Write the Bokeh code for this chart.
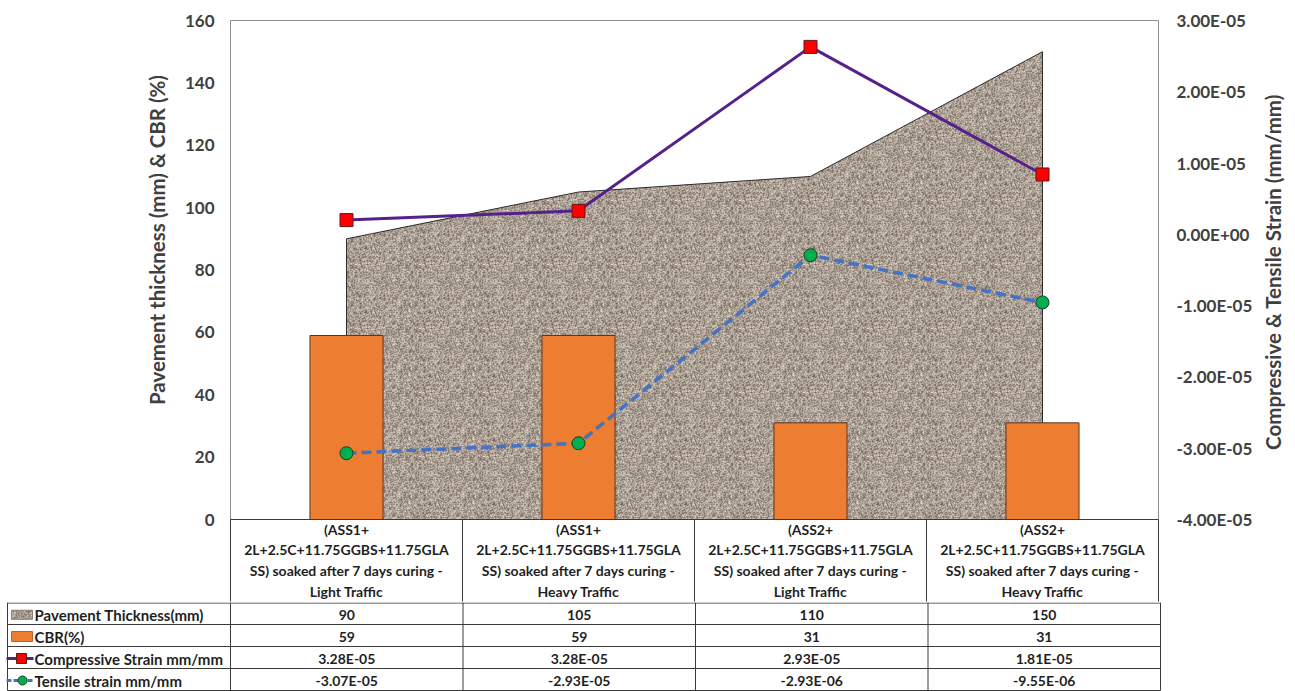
import base64
import math
import struct
import zlib

import numpy as np
from bokeh.core.properties import value
from bokeh.embed import file_html
from bokeh.layouts import row
from bokeh.models import (CustomJSTickFormatter, FixedTicker, ImageURLTexture, LinearAxis,
                          Range1d)
from bokeh.plotting import figure
from bokeh.resources import INLINE

# ---------------- data ----------------
categories = [
    "(ASS1+\n2L+2.5C+11.75GGBS+11.75GLA\nSS) soaked after 7 days curing -\nLight Traffic",
    "(ASS1+\n2L+2.5C+11.75GGBS+11.75GLA\nSS) soaked after 7 days curing -\nHeavy Traffic",
    "(ASS2+\n2L+2.5C+11.75GGBS+11.75GLA\nSS) soaked after 7 days curing -\nLight Traffic",
    "(ASS2+\n2L+2.5C+11.75GGBS+11.75GLA\nSS) soaked after 7 days curing -\nHeavy Traffic",
]
series_names = ["Pavement Thickness(mm)", "CBR(%)", "Compressive Strain mm/mm", "Tensile strain mm/mm"]
thickness = [90, 105, 110, 150]
cbr = [59, 59, 31, 31]
compressive_strain = [3.28e-05, 3.28e-05, 2.93e-05, 1.81e-05]   # tabulated values
compressive_line = [0.20e-05, 0.33e-05, 2.63e-05, 0.84e-05]     # plotted line positions
tensile_strain = [-3.07e-05, -2.93e-05, -2.93e-06, -9.55e-06]
left_ticks = [0, 20, 40, 60, 80, 100, 120, 140, 160]
right_ticks = [-4e-05, -3e-05, -2e-05, -1e-05, 0.0, 1e-05, 2e-05, 3e-05]
left_title = "Pavement thickness (mm) & CBR (%)"
right_title = "Compressive & Tensile Strain (mm/mm)"

n = len(thickness)
xs = list(range(n))

# ---------------- styling constants ----------------
W = 1295
LEFT_STRIP = 178        # strip holding the left title
RIGHT_STRIP = 40        # strip holding the right title
FRAME_L, FRAME_R, FRAME_T, FRAME_B = 230, 1160, 20, 520
CHART_W = W - LEFT_STRIP - RIGHT_STRIP
TOP_H = 602             # chart + category header row
TABLE_BOTTOM = 691
HEADER_H = TOP_H - FRAME_B
FONT = "Lato"
TEXT_DARK = "#404040"
TABLE_TEXT = "#1f1f1f"
TABLE_LINE = "#3a3a3a"
ORANGE = "#ED7D31"
PURPLE = "#55228a"
BLUE = "#4472C4"
RED = "#FF0000"
GREEN = "#00B050"
GRAIN_BASE = "#ab9e91"


def png_data_url(rgb):
    """Encode an HxWx3 uint8 array as a PNG data URL."""
    h, w, _ = rgb.shape
    raw = b"".join(b"\x00" + rgb[i].tobytes() for i in range(h))

    def chunk(tag, data):
        body = tag + data
        return struct.pack(">I", len(data)) + body + struct.pack(">I", zlib.crc32(body) & 0xFFFFFFFF)

    png = (b"\x89PNG\r\n\x1a\n"
           + chunk(b"IHDR", struct.pack(">IIBBBBB", w, h, 8, 2, 0, 0, 0))
           + chunk(b"IDAT", zlib.compress(raw, 9))
           + chunk(b"IEND", b""))
    return "data:image/png;base64," + base64.b64encode(png).decode()


def grain_tile(size=64, seed=11):
    """Speckled stone-like fill used for the pavement area."""
    rng = np.random.default_rng(seed)
    t = rng.random((size, size))
    t = 0.7 * t + 0.3 * (np.roll(t, 1, 0) + np.roll(t, 1, 1)) / 2
    dark = np.array([100, 90, 80], float)
    mid = np.array([174, 161, 149], float)
    light = np.array([234, 226, 217], float)
    img = np.empty((size, size, 3), float)
    lo = t < 0.5
    a = (t[lo] / 0.5)[:, None] ** 0.8
    img[lo] = dark + (mid - dark) * a
    b = ((t[~lo] - 0.5) / 0.5)[:, None] ** 1.4
    img[~lo] = mid + (light - mid) * b
    return np.clip(img, 0, 255).astype(np.uint8)


grain = ImageURLTexture(url=png_data_url(grain_tile()), repetition="repeat")


def title_strip(width, text, x, y):
    """Narrow panel carrying a vertical axis title (reads bottom to top)."""
    s = figure(width=width, height=TOP_H, x_range=Range1d(0, width), y_range=Range1d(FRAME_B, FRAME_T),
               output_backend="svg", toolbar_location=None,
               x_axis_location=None, y_axis_location=None,
               min_border_left=0, min_border_right=0, min_border_top=FRAME_T, min_border_bottom=HEADER_H,
               background_fill_color="white", border_fill_color="white")
    s.xgrid.visible = False
    s.ygrid.visible = False
    s.outline_line_color = None
    s.text(x=[x], y=[y], text=[text], angle=math.pi / 2, text_align="center",
           text_baseline="middle", text_font=value(FONT), text_font_style="bold",
           text_font_size="20.5px", text_color=TEXT_DARK)
    return s


# ---------------- chart ----------------
p = figure(width=CHART_W, height=TOP_H, x_range=Range1d(-0.5, n - 0.5), y_range=Range1d(0, 160),
           output_backend="svg", toolbar_location=None,
           min_border_left=FRAME_L - LEFT_STRIP, min_border_right=W - RIGHT_STRIP - FRAME_R,
           min_border_top=FRAME_T, min_border_bottom=HEADER_H,
           background_fill_color="white", border_fill_color="white")
p.extra_y_ranges = {"strain": Range1d(right_ticks[0], right_ticks[-1])}
p.xgrid.visible = False
p.ygrid.visible = False
p.outline_line_color = "#8c8c8c"
p.outline_line_width = 1

# pavement thickness area
p.patch([xs[0]] + xs + [xs[-1]], [0] + thickness + [0],
        fill_color=GRAIN_BASE, line_color="#2e2e2e", line_width=1,
        hatch_pattern="grain", hatch_extra={"grain": grain}, hatch_alpha=1.0)

# CBR bars
p.vbar(x=xs, top=cbr, width=0.315, fill_color=ORANGE, line_color="#5b3522", line_width=1)

# compressive strain
p.line(xs, compressive_line, y_range_name="strain", line_color=PURPLE, line_width=3)
p.scatter(xs, compressive_line, y_range_name="strain", marker="square", size=13,
          fill_color=RED, line_color="#5a1a1a", line_width=1)

# tensile strain
p.line(xs, tensile_strain, y_range_name="strain", line_color=BLUE, line_width=3.5, line_dash="10 5")
p.scatter(xs, tensile_strain, y_range_name="strain", marker="circle", size=13,
          fill_color=GREEN, line_color="#1e3d1e", line_width=1)

# ---------------- axes ----------------
yl = p.yaxis[0]
yl.ticker = FixedTicker(ticks=left_ticks)

yr = LinearAxis(y_range_name="strain", ticker=FixedTicker(ticks=right_ticks),
                formatter=CustomJSTickFormatter(code="""
                    const s = tick.toExponential(2);
                    const parts = s.split("e");
                    let e = parseInt(parts[1]);
                    const sign = e < 0 ? "-" : "+";
                    e = Math.abs(e);
                    return parts[0] + "E" + sign + (e < 10 ? "0" + e : "" + e);
                """))
p.add_layout(yr, "right")

for ax in (yl, yr):
    ax.axis_line_color = None
    ax.major_tick_line_color = None
    ax.minor_tick_line_color = None
    ax.major_tick_out = 0
    ax.major_tick_in = 0
    ax.minor_tick_out = 0
    ax.minor_tick_in = 0
    ax.major_label_standoff = 16
    ax.major_label_text_font = FONT
    ax.major_label_text_font_style = "bold"
    ax.major_label_text_font_size = "17px"
    ax.major_label_text_color = TEXT_DARK
yr.major_label_standoff = 18

# category header row of the data table: the x axis, with cell dividers as minor ticks
xa = p.xaxis[0]
xa.ticker = FixedTicker(ticks=xs, minor_ticks=[x - 0.5 for x in xs] + [xs[-1] + 0.5])
xa.major_label_overrides = {i: c for i, c in zip(xs, categories)}
xa.axis_line_color = TABLE_LINE
xa.axis_line_width = 1
xa.major_tick_line_color = None
xa.major_tick_out = 0
xa.major_tick_in = 0
xa.minor_tick_line_color = TABLE_LINE
xa.minor_tick_line_width = 1
xa.minor_tick_out = HEADER_H
xa.minor_tick_in = 0
xa.major_label_standoff = -HEADER_H + 1
xa.major_label_text_font = FONT
xa.major_label_text_font_style = "bold"
xa.major_label_text_font_size = "14px"
xa.major_label_text_color = TABLE_TEXT
xa.major_label_text_line_height = 1.22

# axis titles
lt = title_strip(LEFT_STRIP, left_title, 156, 240)
rt = title_strip(RIGHT_STRIP, right_title, 17, 272)

# ---------------- data table rows ----------------
col_px = (FRAME_R - FRAME_L) / n


def xd(px):
    """Horizontal pixel position -> category units."""
    return (px - FRAME_L) / col_px - 0.5


t = figure(width=W, height=TABLE_BOTTOM - TOP_H,
           x_range=Range1d(xd(0), xd(W)), y_range=Range1d(TABLE_BOTTOM, TOP_H),
           output_backend="svg", toolbar_location=None,
           x_axis_location=None, y_axis_location=None, min_border=0,
           background_fill_color="white", border_fill_color="white")
t.xgrid.visible = False
t.ygrid.visible = False
t.outline_line_color = None

row_edges = [602.5, 624, 646, 668, 690]
table_left = xd(7)
col_edges = [table_left] + [x - 0.5 for x in xs] + [xs[-1] + 0.5]

t.segment(x0=[table_left] * len(row_edges), x1=[col_edges[-1]] * len(row_edges),
          y0=row_edges, y1=row_edges, line_color=TABLE_LINE, line_width=1)
t.segment(x0=col_edges, x1=col_edges, y0=[TOP_H] * len(col_edges),
          y1=[row_edges[-1]] * len(col_edges), line_color=TABLE_LINE, line_width=1)

row_values = [
    [str(v) for v in thickness],
    [str(v) for v in cbr],
    [f"{v:.2E}" for v in compressive_strain],
    [f"{v:.2E}" for v in tensile_strain],
]
row_mid = [(row_edges[r] + row_edges[r + 1]) / 2 + 1 for r in range(len(series_names))]
vx, vy, vt = [], [], []
for r, vals in enumerate(row_values):
    for i, v in enumerate(vals):
        vx.append(i)
        vy.append(row_mid[r])
        vt.append(v)
t.text(x=vx, y=vy, text=vt, text_align="center", text_baseline="middle",
       text_font=value(FONT), text_font_style="bold", text_font_size="14px", text_color=TABLE_TEXT)
t.text(x=[xd(34)] * len(series_names), y=row_mid, text=series_names, text_align="left",
       text_baseline="middle", text_font=value(FONT), text_font_style="bold",
       text_font_size="15px", text_color=TABLE_TEXT)

# legend keys
t.quad(left=xd(11), right=xd(32), top=row_mid[0] - 4.5, bottom=row_mid[0] + 4.5,
       fill_color=GRAIN_BASE, line_color="#8a7f74", line_width=1,
       hatch_pattern=value("grain"), hatch_extra={"grain": grain}, hatch_alpha=1.0)
t.quad(left=xd(11), right=xd(32), top=row_mid[1] - 5, bottom=row_mid[1] + 5,
       fill_color=ORANGE, line_color="#c0602a", line_width=1)
t.line(x=[xd(6), xd(33)], y=[row_mid[2]] * 2, line_color=PURPLE, line_width=3)
t.scatter(x=[xd(21)], y=[row_mid[2]], marker="square", size=10,
          fill_color=RED, line_color="#5a1a1a", line_width=1)
t.line(x=[xd(6), xd(33)], y=[row_mid[3]] * 2, line_color=BLUE, line_width=3, line_dash="5 2")
t.scatter(x=[xd(22)], y=[row_mid[3]], marker="circle", size=9,
          fill_color=GREEN, line_color="#1e3d1e", line_width=1)

open("out.html", "w").write(file_html([row(lt, p, rt, spacing=0), t], INLINE))
